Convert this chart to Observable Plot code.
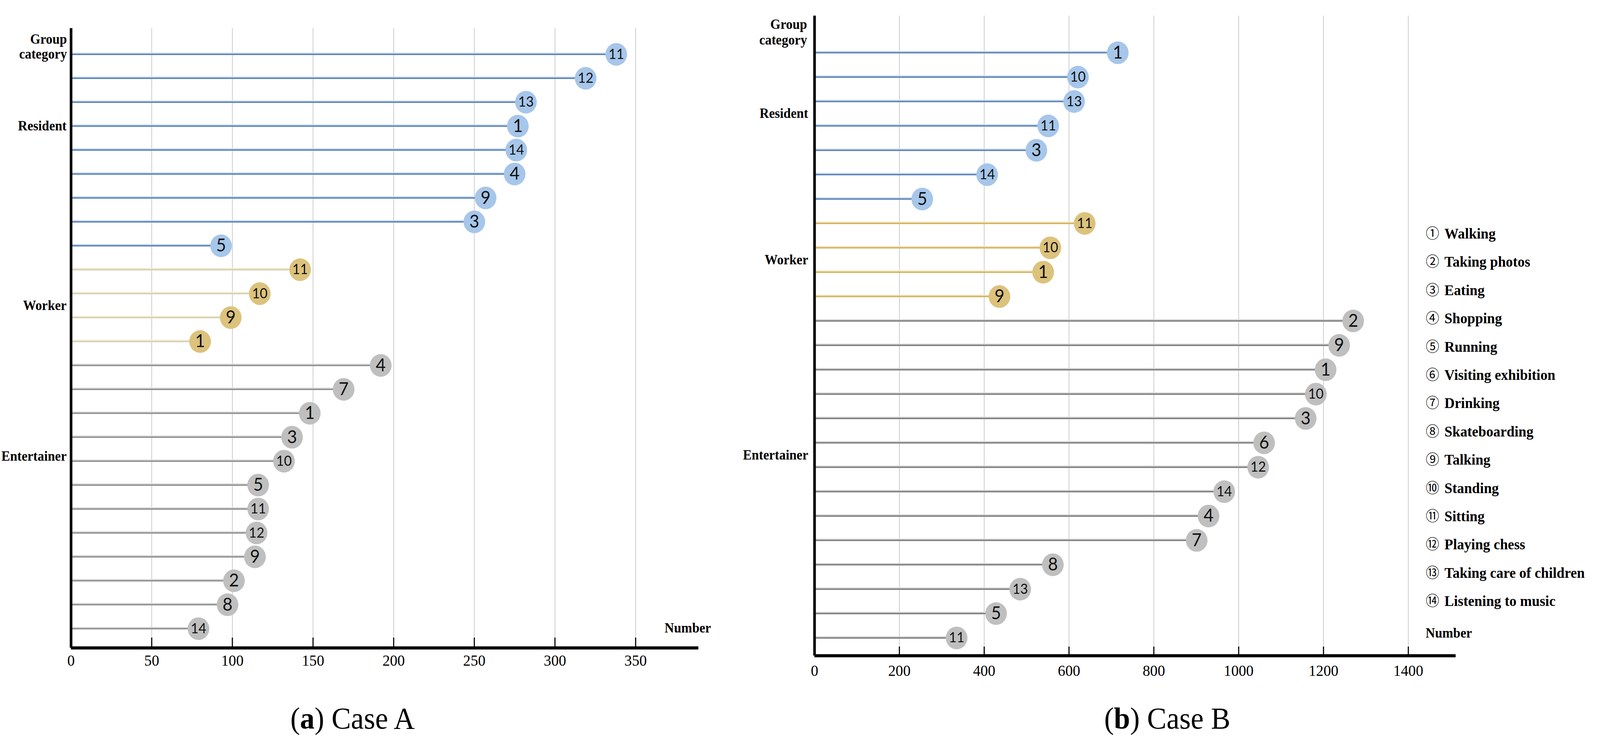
<!DOCTYPE html>
<html>
<head>
<meta charset="utf-8">
<script src="https://cdn.jsdelivr.net/npm/d3@7"></script>
<script src="https://cdn.jsdelivr.net/npm/@observablehq/plot@0.6"></script>
<style>
  html, body { margin: 0; padding: 0; background: #fff; overflow: hidden; }
  #page { position: relative; width: 4289px; height: 1903px; overflow: hidden; background: #fff; transform-origin: 0 0; }
  .panel { position: absolute; top: 0; }
  .panel svg { overflow: visible; }
  .caption { position: absolute; font-family: "Liberation Serif", serif; font-size: 78px; color: #000;
             transform: translate(-50%, -50%); white-space: nowrap; line-height: 1; }
  #legend { position: absolute; left: 3822px; top: 559px; font-family: "Liberation Serif", serif; color: #000; }
  #legend .item { height: 72.4px; line-height: 72.4px; white-space: nowrap; }
  #legend .num { font-family: "Noto Sans CJK SC", "DejaVu Sans", sans-serif; font-size: 36px; display: inline-block; width: 50px; }
  #legend .name { font-weight: bold; font-size: 38px; }
</style>
</head>
<body>
<div id="page"></div>
<script>
// ---------------- data ----------------
const activities = ["Walking", "Taking photos", "Eating", "Shopping", "Running", "Visiting exhibition",
  "Drinking", "Skateboarding", "Talking", "Standing", "Sitting", "Playing chess",
  "Taking care of children", "Listening to music"];
const groups = ["Resident", "Worker", "Entertainer"];

// Case A
const caseA_residentIds = [11, 12, 13, 1, 14, 4, 9, 3, 5];
const caseA_residentValues = [338, 319, 282, 277, 276, 275, 257, 250, 93];
const caseA_workerIds = [11, 10, 9, 1];
const caseA_workerValues = [142, 117, 99, 80];
const caseA_entertainerIds = [4, 7, 1, 3, 10, 5, 11, 12, 9, 2, 8, 14];
const caseA_entertainerValues = [192, 169, 148, 137, 132, 116, 116, 115, 114, 101, 97, 79];
const caseA_ticks = [0, 50, 100, 150, 200, 250, 300, 350];

// Case B
const caseB_residentIds = [1, 10, 13, 11, 3, 14, 5];
const caseB_residentValues = [715, 621, 612, 551, 523, 407, 254];
const caseB_workerIds = [11, 10, 1, 9];
const caseB_workerValues = [637, 556, 539, 436];
const caseB_entertainerIds = [2, 9, 1, 10, 3, 6, 12, 14, 4, 7, 8, 13, 5, 11];
const caseB_entertainerValues = [1270, 1237, 1205, 1182, 1158, 1060, 1046, 966, 929, 901, 562, 485, 428, 335];
const caseB_ticks = [0, 200, 400, 600, 800, 1000, 1200, 1400];

// ---------------- helpers ----------------
function buildRows(parts) {
  const out = [];
  parts.forEach(([group, ids, values]) => {
    ids.forEach((id, i) => out.push({group, id, value: values[i], row: out.length}));
  });
  return out;
}

const rowsA = buildRows([
  [groups[0], caseA_residentIds, caseA_residentValues],
  [groups[1], caseA_workerIds, caseA_workerValues],
  [groups[2], caseA_entertainerIds, caseA_entertainerValues]
]);
const rowsB = buildRows([
  [groups[0], caseB_residentIds, caseB_residentValues],
  [groups[1], caseB_workerIds, caseB_workerValues],
  [groups[2], caseB_entertainerIds, caseB_entertainerValues]
]);

const serif = "Liberation Serif, Times New Roman, serif";

function panel(cfg) {
  const {rows, ticks, xMax, yDomain, width, height, marginLeft, marginRight, marginTop, marginBottom,
         lineColor, haloColor, circleFill, labelPos, labelDx, titleDx, titleDy, titleLineHeight,
         numberDx, numberDy, tickSize, tickPadding} = cfg;
  const labels = groups.map((g, i) => ({label: g, y: labelPos[i]}));
  return Plot.plot({
    width, height, marginLeft, marginRight, marginTop, marginBottom,
    style: {background: "transparent", overflow: "visible"},
    x: {domain: [0, xMax]},
    y: {domain: yDomain, reverse: true, axis: null},
    marks: [
      Plot.ruleX(ticks.filter(t => t > 0), {stroke: "#cacaca", strokeWidth: 2}),
      Plot.ruleY(rows, {y: "row", x1: 0, x2: "value", stroke: d => haloColor[d.group], strokeWidth: 3, dy: -3}),
      Plot.ruleY(rows, {y: "row", x1: 0, x2: "value", stroke: d => lineColor[d.group], strokeWidth: 3.5}),
      Plot.dot(rows, {x: "value", y: "row", r: 29, fill: d => circleFill[d.group], stroke: "none"}),
      Plot.text(rows, {x: "value", y: "row", text: d => String(d.id),
        fontSize: d => d.id >= 10 ? 36 : 46, fontFamily: "Lato, sans-serif", fill: "#111"}),
      Plot.ruleX([0], {stroke: "#000", strokeWidth: 7}),
      Plot.ruleY([yDomain[1]], {stroke: "#000", strokeWidth: 8}),
      Plot.axisX({ticks, tickSize, tickPadding, fontSize: 40, fontFamily: serif,
        stroke: "#000", strokeWidth: 3, fill: "#000", label: null, tickFormat: d => String(d)}),
      Plot.text(labels, {y: "y", text: "label", frameAnchor: "left", textAnchor: "end", dx: labelDx,
        fontSize: 35, fontWeight: "bold", fontFamily: serif, fill: "#000"}),
      Plot.text(["Group\ncategory"], {text: d => d, frameAnchor: "top-left", textAnchor: "end",
        lineAnchor: "top", dx: titleDx, dy: titleDy, lineHeight: titleLineHeight,
        fontSize: 35, fontWeight: "bold", fontFamily: serif, fill: "#000"}),
      Plot.text(["Number"], {text: d => d, frameAnchor: "bottom-right", textAnchor: "start",
        dx: numberDx, dy: numberDy, fontSize: 35, fontWeight: "bold", fontFamily: serif, fill: "#000"})
    ]
  });
}

const circleFill = {Resident: "#a6c6ea", Worker: "#dcc27c", Entertainer: "#bfbfbf"};

const svgA = panel({
  rows: rowsA, ticks: caseA_ticks, xMax: 389, yDomain: [-1.088, 24.805],
  width: 1960, height: 1760, marginLeft: 190, marginRight: 88, marginTop: 72, marginBottom: 101,
  lineColor: {Resident: "#5b7fb5", Worker: "#d8cfac", Entertainer: "#8e8e8e"},
  haloColor: {Resident: "#c6ddf4", Worker: "#f1ecd9", Entertainer: "#dadada"},
  circleFill, labelPos: [3, 10.5, 16.8], labelDx: -12,
  titleDx: -11, titleDy: 13, titleLineHeight: 1.086,
  numberDx: -91, numberDy: -40, tickSize: -26, tickPadding: 43
});

const svgB = panel({
  rows: rowsB, ticks: caseB_ticks, xMax: 1512, yDomain: [-1.515, 24.73],
  width: 2000, height: 1760, marginLeft: 193, marginRight: 88, marginTop: 40, marginBottom: 81,
  lineColor: {Resident: "#5b7fb5", Worker: "#d2b35c", Entertainer: "#7c7c7c"},
  haloColor: {Resident: "#c6ddf4", Worker: "#efe3bb", Entertainer: "#d6d6d6"},
  circleFill, labelPos: [2.5, 8.5, 16.5], labelDx: -17,
  titleDx: -20, titleDy: 5, titleLineHeight: 1.14,
  numberDx: -81, numberDy: -47, tickSize: -23, tickPadding: 46
});

const page = document.getElementById("page");
const pA = document.createElement("div"); pA.className = "panel"; pA.style.left = "0px"; pA.appendChild(svgA); page.appendChild(pA);
const pB = document.createElement("div"); pB.className = "panel"; pB.style.left = "1990px"; pB.appendChild(svgB); page.appendChild(pB);

// legend
const legend = d3.select(page).append("div").attr("id", "legend");
activities.forEach((name, i) => {
  const item = legend.append("div").attr("class", "item");
  item.append("span").attr("class", "num").text(String.fromCharCode(0x2460 + i));
  item.append("span").attr("class", "name").text(name);
});

// captions
const captions = [["a", "Case A", 945], ["b", "Case B", 3129]];
captions.forEach(([letter, text, cx]) => {
  const c = d3.select(page).append("div").attr("class", "caption")
    .style("left", cx + "px").style("top", "1840px");
  c.append("span").text("(");
  c.append("b").text(letter);
  c.append("span").text(") " + text);
});

// fit the 4289 x 1903 layout to the actual viewport, so nothing is cut off
function fit() {
  const vw = document.documentElement.clientWidth || window.innerWidth;
  const vh = document.documentElement.clientHeight || window.innerHeight;
  const sx = Math.min(vw / 4289, 1);
  const sy = Math.min(vh / 1903, 1);
  page.style.transform = (sx < 1 || sy < 1) ? `scale(${sx}, ${sy})` : "none";
}
fit();
window.addEventListener("resize", fit);
</script>
</body>
</html>
